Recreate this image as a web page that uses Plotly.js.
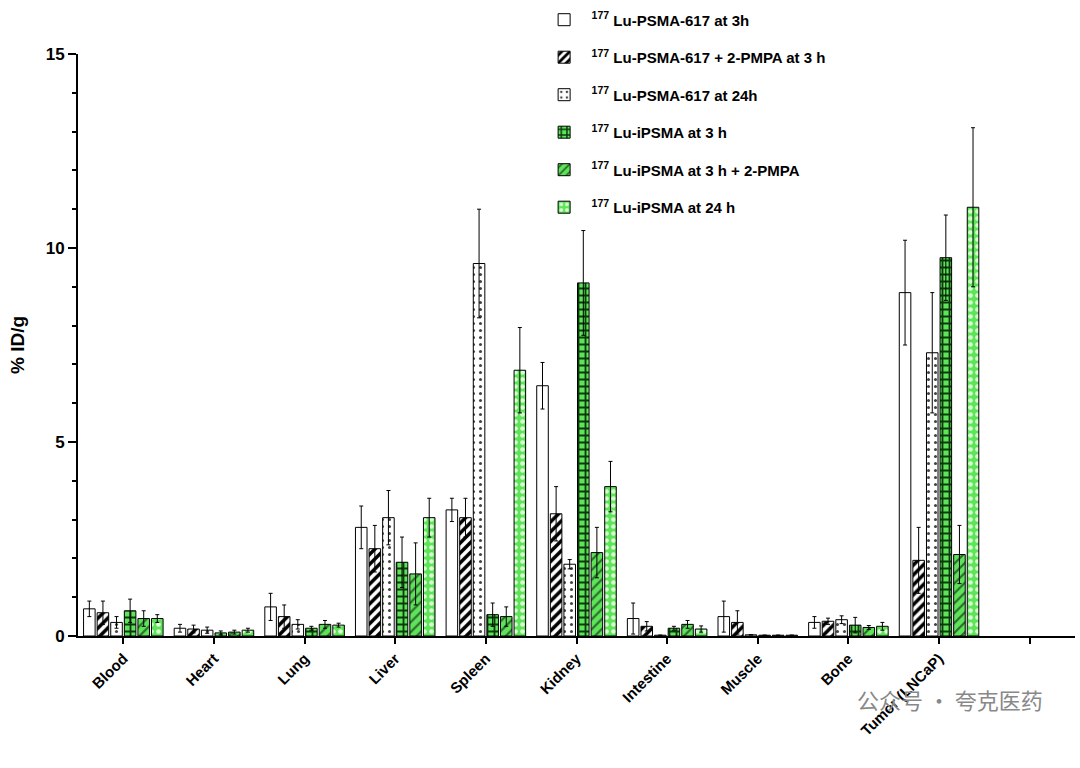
<!DOCTYPE html>
<html>
<head>
<meta charset="utf-8">
<script src="https://cdn.plot.ly/plotly-3.0.1.min.js"></script>
<style>body{margin:0;background:#fff;}</style>
</head>
<body>
<div id="plot" style="width:1080px;height:768px;"></div>
<script>
var organs = ['Blood', 'Heart', 'Lung', 'Liver', 'Spleen', 'Kidney', 'Intestine', 'Muscle', 'Bone', 'Tumor (LNCaP)', ' '];

var names = [
    '<sup>177</sup> Lu-PSMA-617 at 3h',
    '<sup>177</sup> Lu-PSMA-617 + 2-PMPA at 3 h',
    '<sup>177</sup> Lu-PSMA-617 at 24h',
    '<sup>177</sup> Lu-iPSMA at 3 h',
    '<sup>177</sup> Lu-iPSMA at 3 h + 2-PMPA',
    '<sup>177</sup> Lu-iPSMA at 24 h'
];

var psma3h      = [0.70, 0.20, 0.75, 2.80, 3.25, 6.45, 0.45, 0.50, 0.35, 8.85, null];
var psma3hErr   = [0.20, 0.10, 0.35, 0.55, 0.30, 0.60, 0.40, 0.40, 0.15, 1.35, 0];
var psmaPmpa    = [0.60, 0.18, 0.50, 2.25, 3.05, 3.15, 0.25, 0.35, 0.38, 1.95, null];
var psmaPmpaErr = [0.30, 0.10, 0.30, 0.60, 0.50, 0.70, 0.12, 0.30, 0.08, 0.85, 0];
var psma24h     = [0.35, 0.15, 0.30, 3.05, 9.60, 1.85, 0.02, 0.03, 0.42, 7.30, null];
var psma24hErr  = [0.15, 0.08, 0.12, 0.70, 1.40, 0.12, 0.00, 0.00, 0.10, 1.55, 0];
var ipsma3h     = [0.65, 0.08, 0.20, 1.90, 0.55, 9.10, 0.20, 0.02, 0.28, 9.75, null];
var ipsma3hErr  = [0.30, 0.05, 0.05, 0.65, 0.30, 1.35, 0.05, 0.00, 0.20, 1.10, 0];
var ipsmaPmpa   = [0.45, 0.10, 0.30, 1.60, 0.50, 2.15, 0.30, 0.02, 0.22, 2.10, null];
var ipsmaPmpaErr= [0.20, 0.05, 0.10, 0.80, 0.25, 0.65, 0.10, 0.00, 0.05, 0.75, 0];
var ipsma24h    = [0.45, 0.15, 0.28, 3.05, 6.85, 3.85, 0.18, 0.02, 0.25, 11.05, null];
var ipsma24hErr = [0.10, 0.05, 0.05, 0.50, 1.10, 0.65, 0.08, 0.00, 0.10, 2.05, 0];

var values = [psma3h, psmaPmpa, psma24h, ipsma3h, ipsmaPmpa, ipsma24h];
var errs = [psma3hErr, psmaPmpaErr, psma24hErr, ipsma3hErr, ipsmaPmpaErr, ipsma24hErr];

var green = '#5ee35a';
var styles = [
    {color: '#ffffff', shape: '', fg: '#000'},
    {color: '#ffffff', shape: '/', fg: '#000', solidity: 0.5},
    {color: '#ffffff', shape: '.', fg: '#444', solidity: 0.15},
    {color: green, shape: '+', fg: '#0a3a0a', solidity: 0.45},
    {color: green, shape: '/', fg: '#2a6a2a', solidity: 0.3},
    {color: green, shape: '.', fg: '#d8ffd0', solidity: 0.35}
];

var data = values.map(function(v, i) {
    var s = styles[i];
    return {
        type: 'bar',
        x: organs,
        y: v,
        name: names[i],
        legendgroup: 'g' + i,
        marker: {
            color: s.color,
            line: {color: '#000', width: 1},
            pattern: {shape: s.shape, fgcolor: s.fg, bgcolor: s.color, size: 7, solidity: s.solidity || 0.3}
        },
        error_y: {type: 'data', array: errs[i], visible: true, color: '#000', thickness: 1, width: 2}
    };
});

var layout = {
    width: 1080,
    height: 768,
    margin: {l: 78, r: 5, t: 53, b: 132},
    paper_bgcolor: '#fff',
    plot_bgcolor: '#fff',
    font: {family: 'Liberation Sans, Arial, sans-serif', color: '#000', size: 14},
    barmode: 'group',
    bargap: 0.1,
    bargroupgap: 0.15,
    showlegend: true,
    legend: {
        x: 0.46, y: 1.085, xanchor: 'left', yanchor: 'top',
        font: {size: 15, weight: 'bold'},
        itemwidth: 45,
        tracegroupgap: 15,
        bgcolor: 'rgba(255,255,255,0)'
    },
    xaxis: {
        showline: true, linecolor: '#000', linewidth: 2,
        ticks: 'outside', ticklen: 6, tickwidth: 2, tickcolor: '#000',
        tickangle: -45,
        tickfont: {size: 15, weight: 'bold'},
        showgrid: false
    },
    yaxis: {
        range: [0, 15],
        tickvals: [0, 5, 10, 15],
        showline: true, linecolor: '#000', linewidth: 2,
        ticks: 'outside', ticklen: 8, tickwidth: 2, tickcolor: '#000',
        minor: {tickvals: [1,2,3,4,6,7,8,9,11,12,13,14], ticks: 'outside', ticklen: 4, tickcolor: '#000'},
        tickfont: {size: 17, weight: 'bold'},
        showgrid: false, zeroline: false,
        title: {text: '% ID/g', font: {size: 19, weight: 'bold'}, standoff: 16}
    },
    annotations: [{
        text: '公众号 · 夸克医药', xref: 'paper', yref: 'paper', x: 0.97, y: -0.14,
        showarrow: false, font: {family: 'Noto Sans CJK SC', size: 22, color: '#888'}
    }]
};

Plotly.newPlot('plot', data, layout, {displayModeBar: false});
</script>
</body>
</html>
